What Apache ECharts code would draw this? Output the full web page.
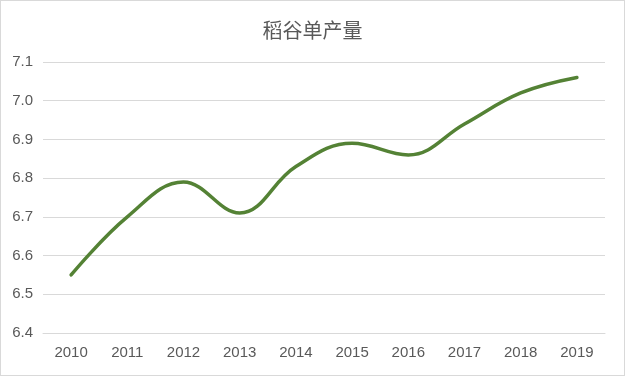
<!DOCTYPE html>
<html><head><meta charset="utf-8">
<script src="https://cdn.jsdelivr.net/npm/echarts@6/dist/echarts.min.js"></script>
<style>html,body{margin:0;padding:0;background:#fff}#c{width:625px;height:376px;box-sizing:border-box;border:1px solid #d9d9d9}</style>
</head><body><div id="c"></div>
<script>
const title = '稻谷单产量';
const years = ['2010','2011','2012','2013','2014','2015','2016','2017','2018','2019'];
const values = [6.55, 6.70, 6.79, 6.71, 6.83, 6.89, 6.86, 6.94, 7.02, 7.06];
const chart = echarts.init(document.getElementById('c'), null, {renderer:'canvas'});
chart.setOption({
  animation:false,
  title:{text:title,left:'center',top:14,textStyle:{fontFamily:'Noto Sans CJK SC',fontSize:20,fontWeight:'normal',color:'#595959'}},
  grid:{left:42,right:19,top:61,bottom:42,containLabel:false},
  xAxis:{type:'category',data:years,boundaryGap:true,
    axisLine:{show:true,lineStyle:{color:'#d9d9d9'}},axisTick:{show:false},
    axisLabel:{color:'#595959',fontSize:15,fontFamily:'Liberation Sans',margin:12}},
  yAxis:{type:'value',min:6.4,max:7.1,interval:0.1,
    axisLine:{show:false},axisTick:{show:false},
    splitLine:{lineStyle:{color:'#d9d9d9'}},
    axisLabel:{color:'#595959',fontSize:15,fontFamily:'Liberation Sans',margin:10,formatter:v=>v.toFixed(1)}},
  series:[{type:'line',data:values,smooth:0.4,symbol:'none',lineStyle:{color:'#548235',width:3.5,cap:'round'}}]
});
</script></body></html>
